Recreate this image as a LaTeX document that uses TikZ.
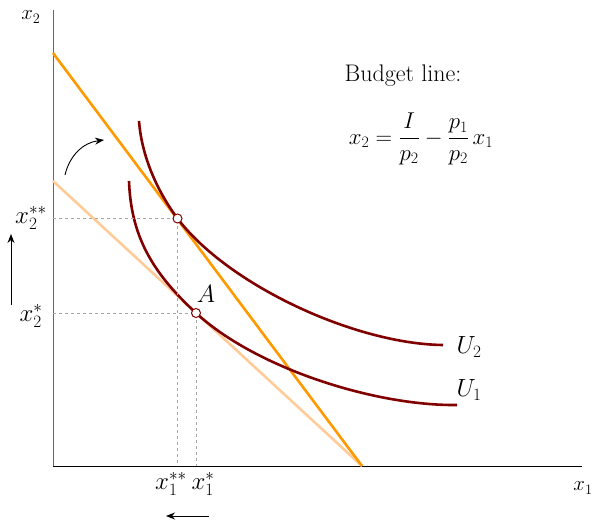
\documentclass[tikz,border=0pt]{standalone}
\usepackage{amsmath}
\usepackage{graphicx}
\usetikzlibrary{arrows.meta}
\definecolor{darkred}{RGB}{128,0,0}
\definecolor{budget}{RGB}{255,153,0}
\definecolor{budgetold}{RGB}{255,204,153}
\tikzset{
  axis/.style={line width=1pt},
  budgetline/.style={line width=2.6pt},
  indiff/.style={line width=2.6pt, darkred},
  guide/.style={dashed, gray!70, line width=0.6pt},
  optpoint/.style={circle, draw=darkred, fill=white, line width=1pt, inner sep=0pt, minimum size=9pt},
  axlbl/.style={font=\fontsize{22}{26}\selectfont, inner sep=1pt},
  ticklbl/.style={font=\fontsize{24}{28}\selectfont, inner sep=1pt},
  txtlbl/.style={font=\fontsize{24}{28}\selectfont, inner sep=1pt},
  movearrow/.style={line width=0.9pt, -{Stealth[length=9pt,width=7pt]}}
}
\begin{document}
\begin{tikzpicture}[x=1pt,y=-1pt]
\useasboundingbox (0,0) rectangle (594,521);
% axes
\coordinate (O) at (53,466);
\coordinate (ytop) at (53,10);
\coordinate (xend) at (582,466);
\draw[axis, black!60] (O) -- (ytop);
\draw[axis] (O) -- (xend);
\node[axlbl] (x2lab) at (31,17) {$x_2$};
\node[axlbl] (x1lab) at (583,488) {$x_1$};
% budget lines
\coordinate (B1) at (53,53);
\coordinate (B0) at (53,181);
\coordinate (Bx) at (362,466);
\draw[budgetline, budgetold] (B0) -- (Bx);
\draw[budgetline, budget] (B1) -- (Bx);
% optimum points
\coordinate (P2) at (177.5,218.5);
\coordinate (P1) at (196,313);
% indifference curves
\draw[indiff] (139,121) .. controls (142,160) and (160,195) .. (P2)
  .. controls (228,285) and (355,344) .. (443,345);
\draw[indiff] (129,181) .. controls (131,235) and (151,271.5) .. (P1)
  .. controls (256,368.3) and (375,406) .. (457,405);
% guides
\coordinate (P2y) at (53,218.5);
\coordinate (P2x) at (177.5,466);
\coordinate (P1y) at (53,313);
\coordinate (P1x) at (196,466);
\draw[guide] (P2y) -- (P2) -- (P2x);
\draw[guide] (P1y) -- (P1) -- (P1x);
\node[optpoint] (p2) at (P2) {};
\node[optpoint] (p1) at (P1) {};
\node[ticklbl] (Alab) at (206,294) {$A$};
% tick labels
\node[ticklbl] (x2ss) at (31,218) {$x_2^{**}$};
\node[ticklbl] (x2s) at (31,316) {$x_2^{*}$};
\node[ticklbl] (x1ss) at (171,484) {$x_1^{**}$};
\node[ticklbl] (x1s) at (203,484) {$x_1^{*}$};
% curve labels
\node[ticklbl] (U2) at (469,347) {$U_2$};
\node[ticklbl] (U1) at (469,390) {$U_1$};
% budget text
\node[txtlbl] (btext) at (403,76) {Budget line:};
\node[txtlbl] (beq) at (421,139) {\scalebox{0.92}{$x_2=\dfrac{I}{p_2}-\dfrac{p_1}{p_2}\,x_1$}};
% movement arrows
\coordinate (ua) at (11,305);
\coordinate (ub) at (11,234);
\draw[movearrow] (ua) -- (ub);
\coordinate (la) at (209,516);
\coordinate (lb) at (166,516);
\draw[movearrow] (la) -- (lb);
\coordinate (ca) at (65,175);
\coordinate (cb) at (104,140);
\draw[movearrow] (ca) to[bend left=35] (cb);
\end{tikzpicture}
\end{document}
